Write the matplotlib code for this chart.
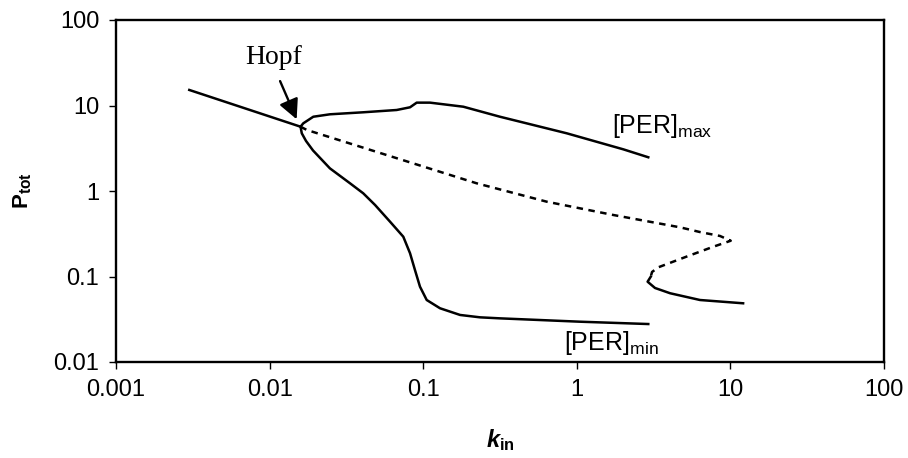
import matplotlib
matplotlib.use("Agg")
import matplotlib.pyplot as plt
import numpy as np

# mathtext: rm -> bold sans, it -> bold italic sans, sf -> plain sans
plt.rcParams['font.family'] = ['Liberation Sans', 'DejaVu Sans']
plt.rcParams['mathtext.fontset'] = 'custom'
plt.rcParams['mathtext.rm'] = 'Liberation Sans:bold'
plt.rcParams['mathtext.it'] = 'Liberation Sans:italic:bold'
plt.rcParams['mathtext.bf'] = 'Liberation Sans:bold'
plt.rcParams['mathtext.sf'] = 'Liberation Sans'

# stable steady state (solid, left of Hopf)
ss_stable_k = [0.0030, 0.0159]
ss_stable_p = [15.2, 5.65]

# unstable steady state (dashed)
ss_unst_k = [0.0159, 0.0175, 0.223, 0.637, 1.73, 4.70, 6.34, 8.55, 10.05,
             7.74, 5.19, 3.39, 3.09, 3.03]
ss_unst_p = [5.65, 5.17, 1.23, 0.75, 0.524, 0.376, 0.331, 0.298, 0.262,
             0.223, 0.171, 0.128, 0.113, 0.0995]

# stable steady state, lower branch (solid)
ss_low_k = [3.03, 2.89, 3.23, 4.05, 6.34, 12.1]
ss_low_p = [0.0995, 0.0869, 0.0734, 0.0637, 0.0531, 0.0486]

# limit cycle maximum
per_max_k = [0.0159, 0.01657, 0.01925, 0.0247, 0.0407, 0.0672, 0.0821,
             0.0907, 0.1107, 0.1824, 0.316, 0.86, 2.01, 2.92]
per_max_p = [5.65, 6.19, 7.39, 7.89, 8.33, 8.86, 9.53, 10.8, 10.8, 9.68,
             7.39, 4.73, 3.07, 2.48]

# limit cycle minimum
per_min_k = [0.0159, 0.0162, 0.01726, 0.01917, 0.0247, 0.0334, 0.0407, 0.0486,
             0.0608, 0.0742, 0.0821, 0.0884, 0.0953, 0.1054, 0.1287, 0.1738,
             0.2344, 0.316, 1.05, 2.92]
per_min_p = [5.65, 4.73, 3.85, 2.98, 1.84, 1.23, 0.94, 0.686, 0.438, 0.292,
             0.187, 0.119, 0.076, 0.0531, 0.0425, 0.0355, 0.0333, 0.0324,
             0.0296, 0.0278]

xticks = [0.001, 0.01, 0.1, 1, 10, 100]
xtick_labels = ['0.001', '0.01', '0.1', '1', '10', '100']
yticks = [0.01, 0.1, 1, 10, 100]
ytick_labels = ['0.01', '0.1', '1', '10', '100']

fig = plt.figure(figsize=(9.08, 4.58), dpi=100)
ax = fig.add_axes([116/908, 96/458, 768/908, 342/458])

lw = 1.8
ax.plot(ss_stable_k, ss_stable_p, color='black', lw=lw)
ax.plot(ss_unst_k, ss_unst_p, color='black', lw=lw, linestyle=(0, (2.6, 2.2)))
ax.plot(ss_low_k, ss_low_p, color='black', lw=lw)
ax.plot(per_max_k, per_max_p, color='black', lw=lw, solid_joinstyle='round')
ax.plot(per_min_k, per_min_p, color='black', lw=lw, solid_joinstyle='round')

ax.set_xscale('log')
ax.set_yscale('log')
ax.set_xlim(0.001, 100)
ax.set_ylim(0.01, 100)
ax.set_xticks(xticks)
ax.set_xticklabels(xtick_labels)
ax.set_yticks(yticks)
ax.set_yticklabels(ytick_labels)
ax.minorticks_off()
ax.tick_params(axis='both', direction='out', length=5, width=1,
               labelsize=17, pad=7)

for s in ax.spines.values():
    s.set_linewidth(1.7)

# Hopf marker
ax.text(0.0107, 36, 'Hopf', family='Liberation Serif', fontsize=20,
        ha='center', va='center')
ax.annotate('', xy=(0.0150, 6.9), xytext=(0.0117, 19.3),
            arrowprops=dict(arrowstyle='-|>,head_length=1.2,head_width=0.6',
                            color='black', lw=1.7, mutation_scale=10,
                            shrinkA=0, shrinkB=0))

# curve labels
ax.text(3.59, 5.75, r'$\mathsf{[PER]}_{\mathsf{max}}$',
        fontsize=18, ha='center', va='center')
ax.text(1.67, 0.0167, r'$\mathsf{[PER]}_{\mathsf{min}}$',
        fontsize=18, ha='center', va='center')

ax.text(-0.121, 0.5, r'$\mathrm{P}_{\mathrm{tot}}$', transform=ax.transAxes,
        rotation=90, fontsize=16, ha='center', va='center')
ax.text(0.5, -0.228, r'$k_{\mathrm{in}}$', transform=ax.transAxes,
        fontsize=17, ha='center', va='center')

fig.savefig('out.png', dpi=100)
